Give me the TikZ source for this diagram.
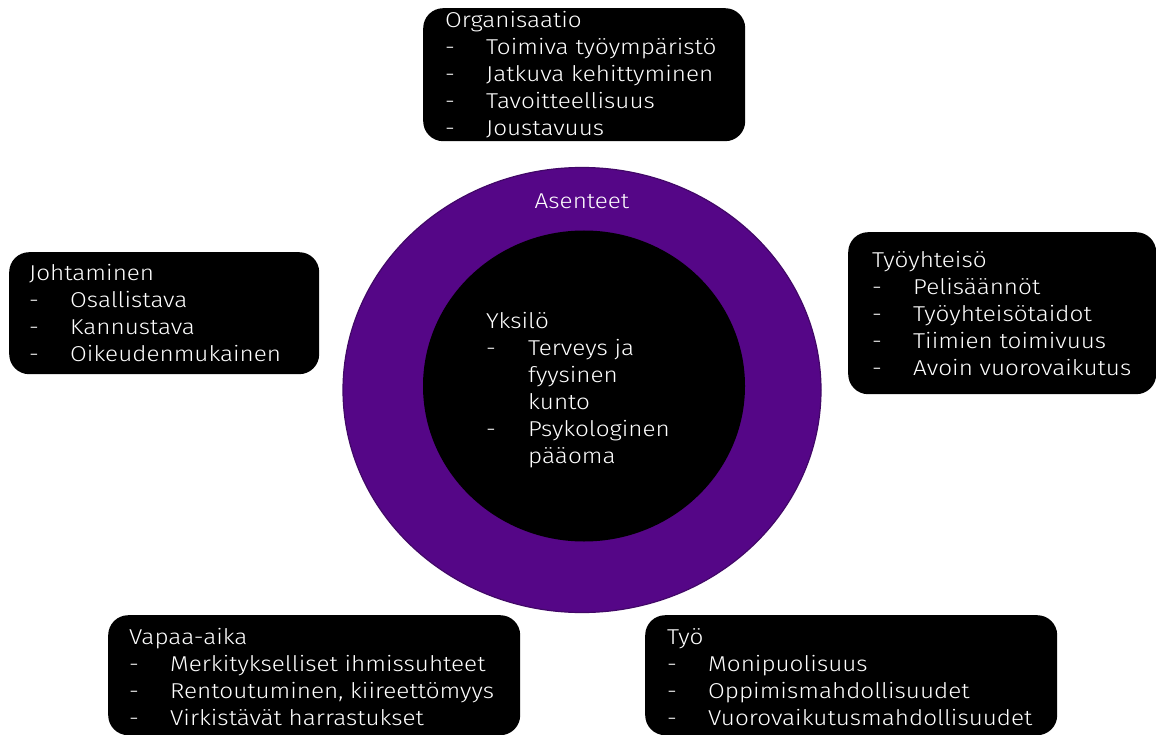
\documentclass[tikz,border=0pt]{standalone}
\usepackage{fontspec}
\setmainfont{Fira Sans}[UprightFont={* Light}, FakeStretch=1.13]
\usetikzlibrary{shapes.geometric}
\definecolor{ringpurple}{RGB}{85,6,135}
\definecolor{ringedge}{RGB}{66,8,104}

% a bullet list: header row, then rows of "-" and item text
\newenvironment{cardlist}[1][41pt]{\begin{tabular}[t]{@{}p{#1}@{}l@{}}}{\end{tabular}}
\newcommand{\cardhead}[1]{\multicolumn{2}{@{}l@{}}{#1}}

\begin{document}
\begin{tikzpicture}[x=1pt,y=-1pt,
  card/.style={fill=black, draw=none, rounded corners=20pt, anchor=north west, inner sep=0pt},
  cardtext/.style={anchor=base west, inner sep=0pt, text=white,
    font=\fontsize{21.5}{27}\selectfont},
  ring/.style={ellipse, inner sep=0pt}
]
\useasboundingbox (0,0) rectangle (1156,735);
\fill[white] (0,0) rectangle (1156,735);

% central rings
\node[ring, fill=ringpurple, draw=ringedge, line width=1.2pt,
      minimum width=478pt, minimum height=445pt] (attitudes) at (582,390) {};
\node[ring, fill=black, minimum width=322pt, minimum height=311pt] (individual) at (584,386) {};

\node[cardtext, anchor=base] (attlabel) at (582,209) {Asenteet};
\node[cardtext] (indtext) at (486,328) {\begin{cardlist}[42pt]
  \cardhead{Yksilö}\\
  - & Terveys ja\\
    & fyysinen\\
    & kunto\\
  - & Psykologinen\\
    & pääoma
\end{cardlist}};

% surrounding cards
\node[card, minimum width=322pt, minimum height=133pt] (orgbox) at (423,8) {};
\node[cardtext] (orgtext) at (445,28) {\begin{cardlist}
  \cardhead{Organisaatio}\\
  - & Toimiva työympäristö\\
  - & Jatkuva kehittyminen\\
  - & Tavoitteellisuus\\
  - & Joustavuus
\end{cardlist}};

\node[card, minimum width=310pt, minimum height=122pt] (leadbox) at (9,252) {};
\node[cardtext] (leadtext) at (29,280) {\begin{cardlist}
  \cardhead{Johtaminen}\\
  - & Osallistava\\
  - & Kannustava\\
  - & Oikeudenmukainen
\end{cardlist}};

\node[card, minimum width=308pt, minimum height=162pt] (commbox) at (848,232) {};
\node[cardtext] (commtext) at (872,268) {\begin{cardlist}
  \cardhead{Työyhteisö}\\
  - & Pelisäännöt\\
  - & Työyhteisötaidot\\
  - & Tiimien toimivuus\\
  - & Avoin vuorovaikutus
\end{cardlist}};

\node[card, minimum width=412pt, minimum height=120pt] (leisurebox) at (108,615) {};
\node[cardtext] (leisuretext) at (129,644) {\begin{cardlist}
  \cardhead{Vapaa-aika}\\
  - & Merkitykselliset ihmissuhteet\\
  - & Rentoutuminen, kiireettömyys\\
  - & Virkistävät harrastukset
\end{cardlist}};

\node[card, minimum width=412pt, minimum height=120pt] (workbox) at (645,615) {};
\node[cardtext] (worktext) at (667,644) {\begin{cardlist}
  \cardhead{Työ}\\
  - & Monipuolisuus\\
  - & Oppimismahdollisuudet\\
  - & Vuorovaikutusmahdollisuudet
\end{cardlist}};
\end{tikzpicture}
\end{document}
